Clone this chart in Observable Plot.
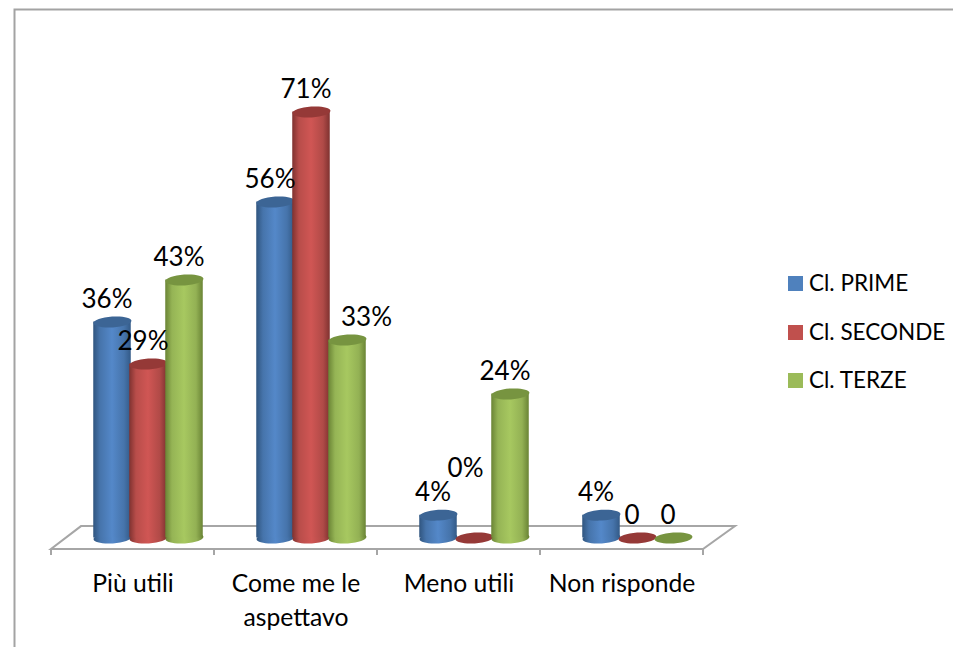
<!DOCTYPE html>
<html>
<head>
<meta charset="utf-8">
<script src="https://cdn.jsdelivr.net/npm/d3@7"></script>
<script src="https://cdn.jsdelivr.net/npm/@observablehq/plot@0.6"></script>
<style>
html,body{margin:0;padding:0;background:#fff}
#chart{position:relative;width:953px;height:647px;overflow:hidden;font-family:Lato,"Open Sans",sans-serif;color:#000}
#chart svg{display:block;position:absolute;left:0;top:0}
.lg{position:absolute;left:788px;display:flex;align-items:center;gap:6px;font-size:22.5px;line-height:24px;white-space:nowrap}
.lg i{display:block;width:15px;height:15px}
</style>
</head>
<body>
<div id="chart"></div>
<script>
const categories = ["Più utili", "Come me le aspettavo", "Meno utili", "Non risponde"];
const seriesNames = ["Cl. PRIME", "Cl. SECONDE", "Cl. TERZE"];
const prime = [36, 56, 3.8, 3.8];
const seconde = [29, 71, 0, 0];
const terze = [43, 33, 24, 0];
const primeLabels = ["36%", "56%", "4%", "4%"];
const secondeLabels = ["29%", "71%", "0%", "0"];
const terzeLabels = ["43%", "33%", "24%", "0"];
const legendColors = ["#4f81bd", "#c0504d", "#9bbb59"];
const sideColors = [
  ["#30557f", "#4674ab", "#5488c9", "#4674ab", "#335a87"],
  ["#7f3230", "#b84d4a", "#d05654", "#b04a47", "#7f3230"],
  ["#6a8435", "#95b455", "#a7c860", "#93b154", "#6a8435"]
];
const capColors = ["#3c6595", "#953937", "#779440"];

const valueSets = [prime, seconde, terze];
const labelSets = [primeLabels, secondeLabels, terzeLabels];
const rows = seriesNames.flatMap((s, si) => categories.map((c, ci) => ({
  category: c, series: s, si, value: valueSets[si][ci], label: labelSets[si][ci]
})));

// Tilted flat ellipse used for the cylinder caps and feet
const cap = {
  draw(ctx) {
    const rx = 19, ry = 5.4, t = -4 * Math.PI / 180, k = 0.5523;
    const P = (x, y) => [x * Math.cos(t) - y * Math.sin(t), x * Math.sin(t) + y * Math.cos(t)];
    ctx.moveTo(...P(rx, 0));
    ctx.bezierCurveTo(...P(rx, k * ry), ...P(k * rx, ry), ...P(0, ry));
    ctx.bezierCurveTo(...P(-k * rx, ry), ...P(-rx, k * ry), ...P(-rx, 0));
    ctx.bezierCurveTo(...P(-rx, -k * ry), ...P(-k * rx, -ry), ...P(0, -ry));
    ctx.bezierCurveTo(...P(k * rx, -ry), ...P(rx, -k * ry), ...P(rx, 0));
    ctx.closePath();
  }
};

// Function marks are called once per facet: the backdrop is drawn only for the first
let backdropDrawn = false;
const backdrop = (index, scales) => {
  if (backdropDrawn) return null;
  backdropDrawn = true;
  const { fx, y } = scales;
  const g = d3.create("svg:g");
  const defs = g.append("defs");
  sideColors.forEach((stops, i) => {
    const lg = defs.append("linearGradient").attr("id", "cyl" + i).attr("x1", 0).attr("x2", 1).attr("y1", 0).attr("y2", 0);
    [0, 0.18, 0.5, 0.82, 1].forEach((o, j) => lg.append("stop").attr("offset", o).attr("stop-color", stops[j]));
  });
  g.append("path")
    .attr("fill", "none").attr("stroke", "#a3a3a3").attr("stroke-width", 2)
    .attr("d", "M14.5,647V9.5H953");
  const left = fx(categories[0]), right = fx(categories[categories.length - 1]) + fx.bandwidth();
  const front = y(-1.92), back = y(1.9);
  const ticks = [...categories.map(c => fx(c)), right];
  g.append("path")
    .attr("fill", "none").attr("stroke", "#a6a6a6").attr("stroke-width", 2)
    .attr("d", `M${left},${front}H${right}L${right + 32},${back}H${left + 30}Z` + ticks.map(t => `M${t},${front}v6`).join(""));
  return g.node();
};

const textOpts = { fx: "category", x: "series", y: "value", text: "label", fontSize: 26, fill: "#000", lineAnchor: "middle" };
const moved = d => d.label === "33%" || d.label === "0%";

const chart = Plot.plot({
  width: 953,
  height: 647,
  marginLeft: 51,
  marginRight: 250,
  marginTop: 57.5,
  marginBottom: 109.5,
  style: { fontFamily: "Lato, 'Open Sans', sans-serif", background: "transparent", overflow: "visible" },
  fx: { domain: categories, padding: 0, axis: null, label: null },
  x: { domain: seriesNames, padding: 0, axis: null, insetLeft: 41.75, insetRight: 11.75 },
  y: { domain: [0, 80], axis: null },
  marks: [
    backdrop,
    Plot.axisFx({ anchor: "bottom", label: null, tickSize: 0, tickPadding: 30, fontSize: 24.7, lineWidth: 6.5, lineHeight: 1.38, lineAnchor: "top", color: "#000" }),
    ...seriesNames.flatMap((s, i) => {
      const data = rows.filter(d => d.si === i);
      const standing = data.filter(d => d.value > 0);
      return [
        Plot.dot(standing, { fx: "category", x: "series", y: () => 0, symbol: cap, fill: `url(#cyl${i})`, stroke: "none" }),
        Plot.barY(standing, { fx: "category", x: "series", y: "value", fill: `url(#cyl${i})`, insetLeft: -0.75, insetRight: -0.75 }),
        Plot.dot(data, { fx: "category", x: "series", y: "value", symbol: cap, fill: capColors[i], stroke: "none" })
      ];
    }),
    Plot.text(rows.filter(d => !moved(d)), { ...textOpts, dx: -5.5, dy: -22.5 }),
    Plot.text(rows.filter(d => d.label === "33%"), { ...textOpts, dx: 19, dy: -22.5 }),
    Plot.text(rows.filter(d => d.label === "0%"), { ...textOpts, dx: -9, dy: -69.5 })
  ]
});

const root = document.getElementById("chart");
root.appendChild(chart);
const legendTops = [271, 320, 368];
seriesNames.forEach((s, i) => {
  const row = document.createElement("div");
  row.className = "lg";
  row.style.top = legendTops[i] + "px";
  const sw = document.createElement("i");
  sw.style.background = legendColors[i];
  const label = document.createElement("span");
  label.textContent = s;
  row.append(sw, label);
  root.appendChild(row);
});
</script>
</body>
</html>
